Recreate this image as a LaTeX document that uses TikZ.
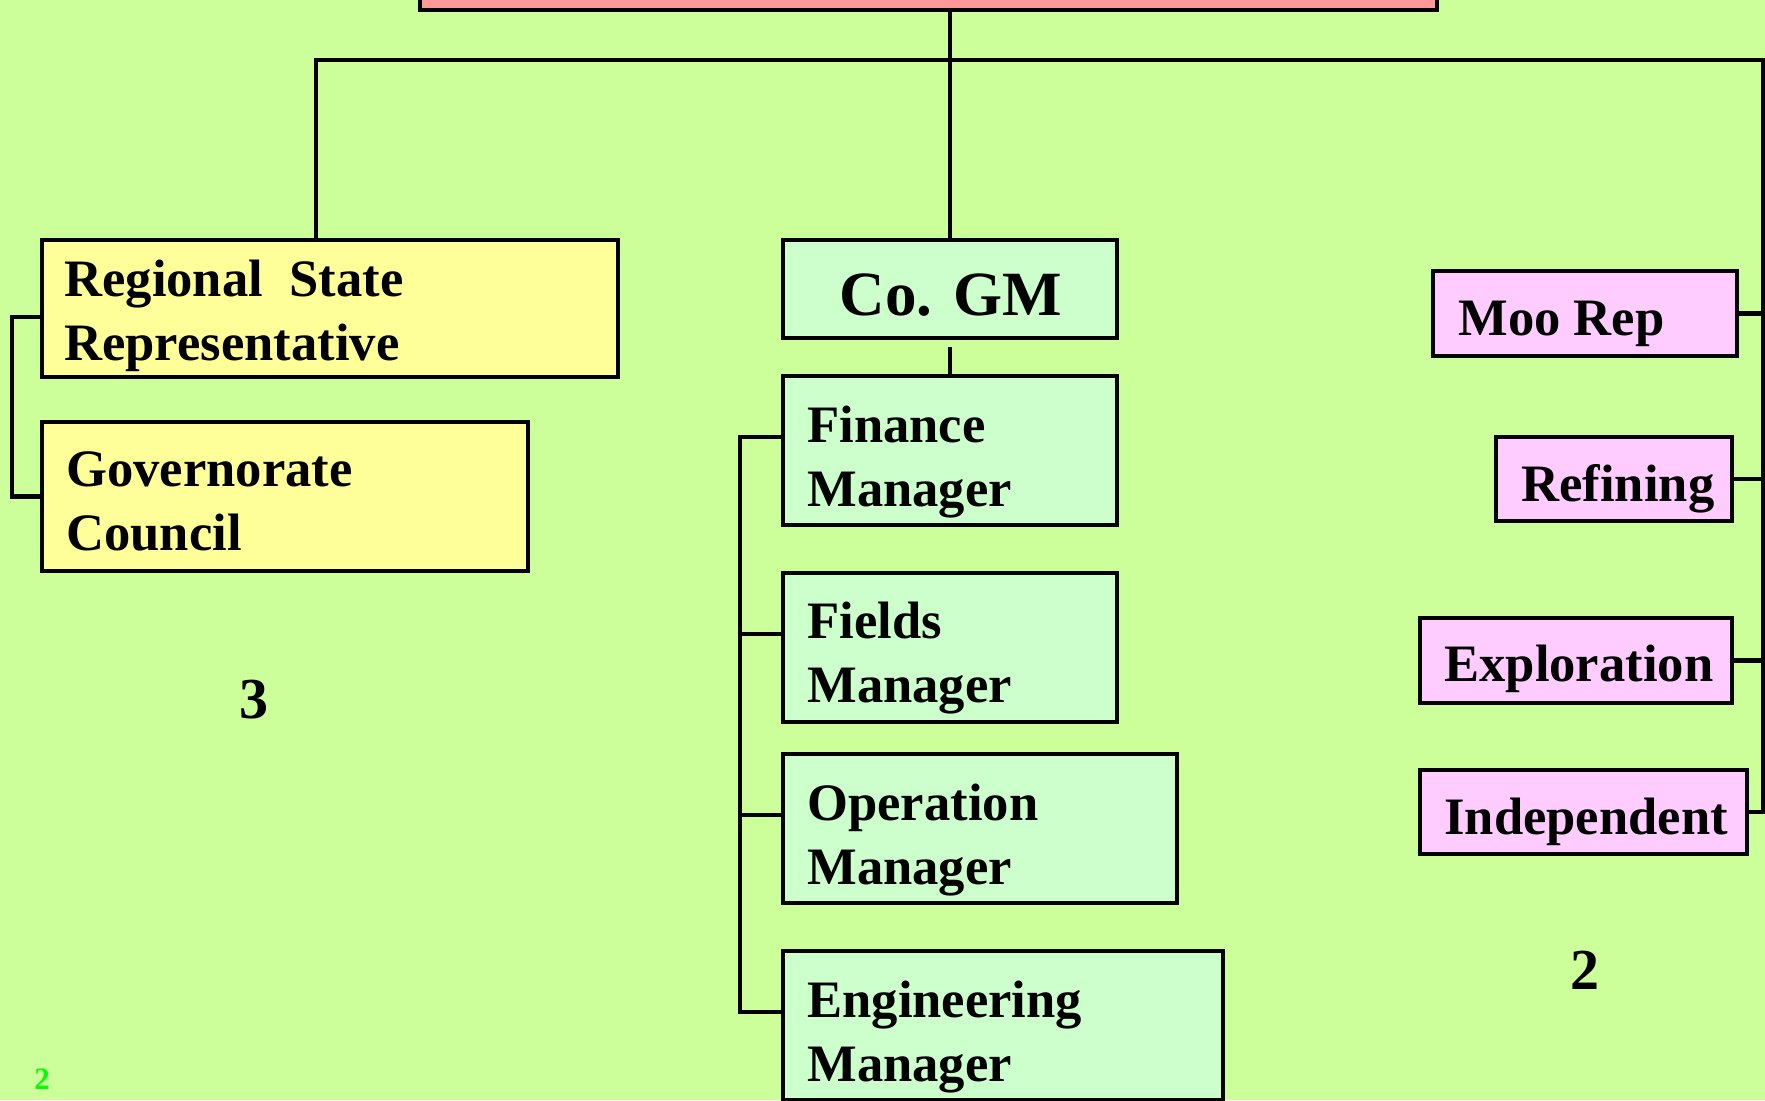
\documentclass[tikz,border=0pt]{standalone}
\usepackage{fontspec}
\setmainfont{Liberation Serif}
\usetikzlibrary{calc}
\definecolor{bg}{HTML}{CCFF99}
\definecolor{topred}{HTML}{FF9999}
\definecolor{stateyellow}{HTML}{FFFF99}
\definecolor{mgrgreen}{HTML}{CCFFCC}
\definecolor{unitpink}{HTML}{FFCCFF}
\definecolor{pagegreen}{HTML}{00FF00}

\begin{document}
\begin{tikzpicture}[x=0.5pt,y=-0.5pt,
  box/.style={draw=black, line width=2.2pt, inner sep=0pt, outer sep=0pt},
  link/.style={draw=black, line width=2.1pt, line join=miter},
  lbl/.style={inner sep=0pt, anchor=base west, font=\fontsize{26.3pt}{32pt}\selectfont\bfseries},
  bignum/.style={inner sep=0pt, font=\fontsize{29pt}{34pt}\selectfont\bfseries}]

% page and background
\useasboundingbox (0,0) rectangle (1765,1100);
\fill[bg] (0,0) rectangle (1765,1100);
\clip (0,0) rectangle (1765,1100);

% boxes (centres and sizes in page units)
\node[box, fill=topred, minimum width=508.5pt, minimum height=50pt] (top) at (928.5,-40) {};

\node[box, fill=stateyellow, minimum width=288pt, minimum height=68.5pt] (reg) at (330,308.5) {};
\node[box, fill=stateyellow, minimum width=243pt, minimum height=74.5pt] (gov) at (285,496.5) {};

\node[box, fill=mgrgreen, minimum width=167pt, minimum height=49pt] (cogm) at (950,289) {};
\node[box, fill=mgrgreen, minimum width=167pt, minimum height=74.5pt] (fin) at (950,450.5) {};
\node[box, fill=mgrgreen, minimum width=167pt, minimum height=74.5pt] (fld) at (950,647.5) {};
\node[box, fill=mgrgreen, minimum width=197pt, minimum height=74.5pt] (opr) at (980,828.5) {};
\node[box, fill=mgrgreen, minimum width=220pt, minimum height=74.5pt] (eng) at (1003,1025.5) {};

\node[box, fill=unitpink, minimum width=152pt, minimum height=42.5pt] (moo) at (1585,313.5) {};
\node[box, fill=unitpink, minimum width=118pt, minimum height=42pt] (ref) at (1614,479) {};
\node[box, fill=unitpink, minimum width=156pt, minimum height=42.5pt] (exp) at (1576,660.5) {};
\node[box, fill=unitpink, minimum width=163.5pt, minimum height=42pt] (ind) at (1583.5,812) {};

% box texts
\node[lbl] (regA) at (64,296) {Regional~ State};
\node[lbl] (regB) at (64,360) {Representative};
\node[lbl] (govA) at (66,486) {Governorate};
\node[lbl] (govB) at (66,550) {Council};

\node[inner sep=0pt, anchor=base, font=\fontsize{31.5pt}{38pt}\selectfont\bfseries] (cogmT) at (951,315) {Co. GM};

\node[lbl] (finA) at (807,442) {Finance};
\node[lbl] (finB) at (807,506) {Manager};
\node[lbl] (fldA) at (807,638) {Fields};
\node[lbl] (fldB) at (807,702) {Manager};
\node[lbl] (oprA) at (807,820) {Operation};
\node[lbl] (oprB) at (807,884) {Manager};
\node[lbl] (engA) at (807,1017) {Engineering};
\node[lbl] (engB) at (807,1081) {Manager};

\node[lbl] (mooT) at (1458,335) {Moo Rep};
\node[lbl] (refT) at (1521,501) {Refining};
\node[lbl] (expT) at (1444,681) {Exploration};
\node[lbl] (indT) at (1444,834) {Independent};

% numbers
\node[bignum] (numL) at (254,700) {3};
\node[bignum] (numR) at (1585,970) {2};
\node[inner sep=0pt, text=pagegreen, font=\fontsize{15.5pt}{18pt}\selectfont\bfseries] (pnum) at (42,1079) {2};

% connector routing points
\coordinate (hl) at (316,60);
\coordinate (hr) at (1763,60);
\coordinate (lb) at (12,317);
\coordinate (cb) at (740,0);
\coordinate (gmstub) at (951,347);

% top level links
\draw[link] (cogm.north |- top.south) -- (cogm.north);
\draw[link] (reg.north -| hl) -- (hl) -- (hr) |- (ind.east);
\draw[link] (moo.east) -- (moo.east -| hr);
\draw[link] (ref.east) -- (ref.east -| hr);
\draw[link] (exp.east) -- (exp.east -| hr);

% regional bracket
\draw[link] (reg.west |- lb) -- (lb) |- (gov.west);

% general manager and departments
\draw[link] (fin.north) -- (fin.north |- gmstub);
\draw[link] ([yshift=6.75pt]fin.west) -- ([yshift=6.75pt]fin.west -| cb)
  -- ([yshift=6.75pt]eng.west -| cb) -- ([yshift=6.75pt]eng.west);
\draw[link] ([yshift=6.75pt]fld.west) -- ([yshift=6.75pt]fld.west -| cb);
\draw[link] ([yshift=6.75pt]opr.west) -- ([yshift=6.75pt]opr.west -| cb);
\end{tikzpicture}
\end{document}
